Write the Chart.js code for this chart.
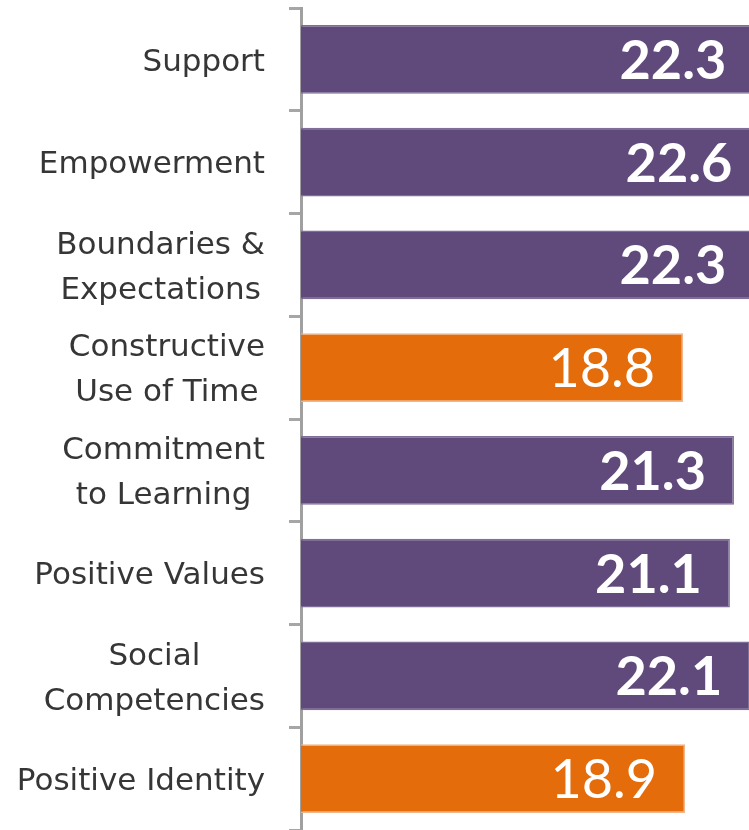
<!DOCTYPE html>
<html>
<head>
<meta charset="utf-8">
<script src="https://cdn.jsdelivr.net/npm/chart.js@4/dist/chart.umd.min.js"></script>
<style>
  html, body { margin: 0; padding: 0; background: #ffffff; }
  #wrap { width: 749px; height: 830px; }
</style>
</head>
<body>
<div id="wrap"><canvas id="c" width="749" height="830"></canvas></div>
<script>
// ---- data ----
const categories = [
  ["Support"],
  ["Empowerment"],
  ["Boundaries &", "Expectations"],
  ["Constructive", "Use of Time"],
  ["Commitment", "to Learning"],
  ["Positive Values"],
  ["Social", "Competencies"],
  ["Positive Identity"]
];
const values = [22.3, 22.6, 22.3, 18.8, 21.3, 21.1, 22.1, 18.9];
const valueLabels = ["22.3", "22.6", "22.3", "18.8", "21.3", "21.1", "22.1", "18.9"];
const highlighted = [false, false, false, true, false, false, false, true];

// ---- styles ----
const PURPLE = "#604a7b";
const PURPLE_EDGE = "#7e6e98";
const ORANGE = "#e46c0a";
const ORANGE_EDGE = "#f1b58a";
const barColors = highlighted.map(h => h ? ORANGE : PURPLE);
const edgeColors = highlighted.map(h => h ? ORANGE_EDGE : PURPLE_EDGE);
const VALUE_FONT = "Lato, 'Open Sans', sans-serif";
const CAT_FONT = "'DejaVu Sans', 'Open Sans', sans-serif";
const CAT_SIZE = 31;
const CAT_LINE = 45;
const CAT_RIGHT_GAP = 36;   // from axis line to right edge of category text

// category labels: each block right-aligned, lines centred within the block
const categoryLabelPlugin = {
  id: "categoryLabels",
  afterDraw(chart) {
    const ctx = chart.ctx;
    const ys = chart.scales.y;
    const right = ys.right - CAT_RIGHT_GAP;
    ctx.save();
    ctx.fillStyle = "#363636";
    ctx.font = CAT_SIZE + "px " + CAT_FONT;
    ctx.textAlign = "center";
    ctx.textBaseline = "alphabetic";
    categories.forEach((lines, i) => {
      const cy = ys.getPixelForValue(i);
      const widths = lines.map(l => ctx.measureText(l).width);
      const blockW = Math.max(...widths);
      const cx = right - blockW / 2;
      const n = lines.length;
      lines.forEach((l, j) => {
        const ly = cy + (j - (n - 1) / 2) * CAT_LINE;
        ctx.fillText(l, cx, ly + CAT_SIZE * 0.73 / 2);
      });
    });
    ctx.restore();
  }
};

const valueLabelPlugin = {
  id: "valueLabels",
  afterDatasetsDraw(chart) {
    const ctx = chart.ctx;
    const meta = chart.getDatasetMeta(0);
    const xs = chart.scales.x;
    ctx.save();
    ctx.fillStyle = "#ffffff";
    ctx.textAlign = "right";
    ctx.textBaseline = "alphabetic";
    meta.data.forEach((bar, i) => {
      const size = 54;
      ctx.font = (highlighted[i] ? "normal " : "bold ") + size + "px " + VALUE_FONT;
      const x = xs.getPixelForValue(values[i]) - 28;
      const y = bar.y + size * 0.72 / 2;
      ctx.fillText(valueLabels[i], x, y);
    });
    ctx.restore();
  }
};

new Chart(document.getElementById("c"), {
  type: "bar",
  data: {
    labels: categories,
    datasets: [{
      data: values,
      backgroundColor: barColors,
      borderColor: edgeColors,
      borderWidth: 1.5,
      borderSkipped: "left",
      categoryPercentage: 1.0,
      barPercentage: 0.67
    }]
  },
  options: {
    indexAxis: "y",
    responsive: false,
    devicePixelRatio: 1,
    animation: false,
    layout: { padding: { top: 8, right: 0, bottom: 0, left: 0 } },
    plugins: {
      legend: { display: false },
      tooltip: { enabled: false },
      title: { display: false }
    },
    scales: {
      x: {
        display: false,
        min: 0,
        max: 22.04
      },
      y: {
        position: "left",
        afterFit(scale) {
          scale.width = 301;
          scale.paddingTop = 0;
          scale.paddingBottom = 0;
        },
        border: { display: true, color: "#a0a0a0", width: 3 },
        grid: {
          display: true,
          offset: true,
          drawOnChartArea: false,
          drawTicks: true,
          tickLength: 12,
          tickWidth: 3,
          color: "#a6a6a6"
        },
        ticks: { display: false }
      }
    }
  },
  plugins: [valueLabelPlugin, categoryLabelPlugin]
});
</script>
</body>
</html>
